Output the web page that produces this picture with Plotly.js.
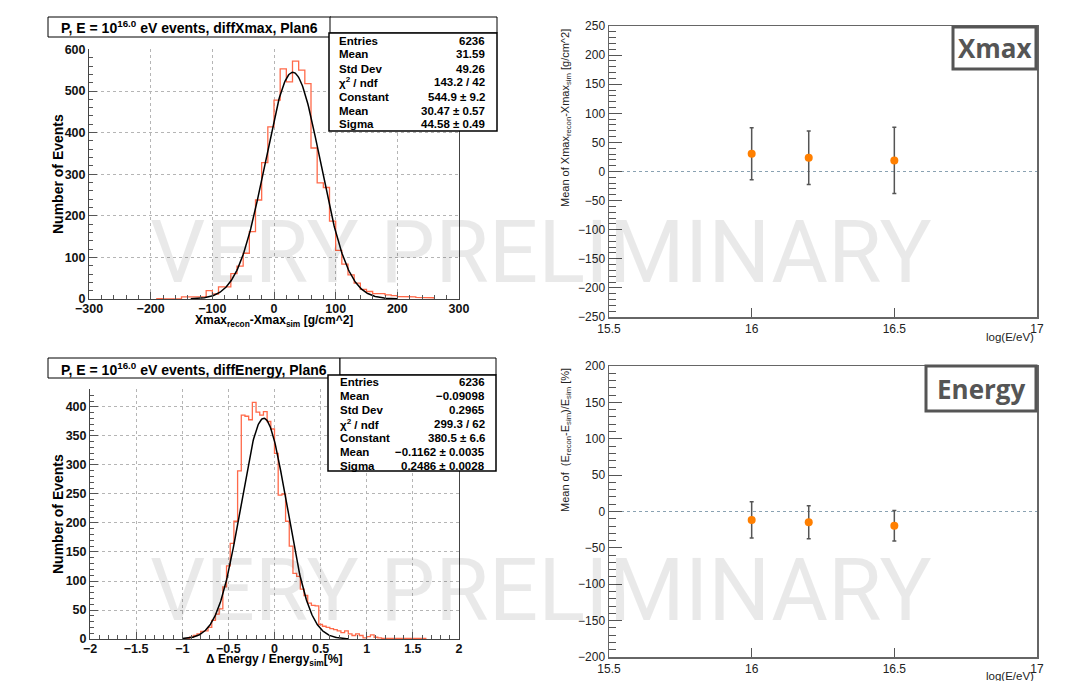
<!DOCTYPE html>
<html><head><meta charset="utf-8">
<script src="https://cdn.plot.ly/plotly-3.0.1.min.js"></script>
<style>html,body{margin:0;padding:0;background:#fff}#chart{width:1076px;height:681px}</style>
</head><body><div id="chart"></div><script>
// ---------- data ----------
const xmaxBinLow = [-190,-180,-170,-160,-150,-140,-130,-120,-110,-100,-90,-80,-70,-60,-50,-40,-30,-20,-10,0,10,20,30,40,50,60,70,80,90,100,110,120,130,140,150,160,170,180,190,200,210,220,230,240,250];
const xmaxBinWidth = 10;
const xmaxCounts = [1,0,0,0,5,5,5,5,20,12,29,29,61,79,110,162,238,328,414,478,553,522,572,550,518,363,279,268,187,117,84,58,38,23,18,13,13,10,8,6,5,5,4,4,3];
const xmaxFitConstant = 544.9, xmaxFitMean = 30.47, xmaxFitSigma = 44.58;
const xmaxFitRange = [-135, 200];

const energyBinLow = [-0.96,-0.92,-0.88,-0.84,-0.80,-0.76,-0.72,-0.68,-0.64,-0.60,-0.56,-0.52,-0.48,-0.44,-0.40,-0.36,-0.32,-0.28,-0.24,-0.20,-0.16,-0.12,-0.08,-0.04,0.00,0.04,0.08,0.12,0.16,0.20,0.24,0.28,0.32,0.36,0.40,0.44,0.48,0.52,0.56,0.60,0.64,0.68,0.72,0.76,0.80,0.84,0.88,0.92,0.96,1.00,1.04,1.08,1.12,1.16,1.20,1.24,1.28,1.32,1.36,1.40,1.44,1.48,1.52,1.56,1.60];
const energyBinWidth = 0.04;
const energyCounts = [1,3,6,9,13,14,20,32,43,52,90,126,165,203,290,386,384,378,408,391,386,392,375,362,320,248,250,203,160,113,108,86,75,62,58,57,25,22,20,18,16,14,11,14,9,6,9,6,2,4,7,3,2,1,1,1,1,0,1,1,1,1,1,1,1];
const energyFitConstant = 380.5, energyFitMean = -0.1162, energyFitSigma = 0.2486;
const energyFitRange = [-1.0, 0.8];

const statsLabels = ["Entries","Mean","Std Dev","χ<sup>2</sup> / ndf","Constant","Mean","Sigma"];
const statsXmax = ["6236","31.59","49.26","143.2 / 42","544.9 ± 9.2","30.47 ± 0.57","44.58 ± 0.49"];
const statsEnergy = ["6236","−0.09098","0.2965","299.3 / 62","380.5 ± 6.6","−0.1162 ± 0.0035","0.2486 ± 0.0028"];

const logE = [16, 16.2, 16.5];
const xmaxMean = [30.5, 23.5, 19];
const xmaxErr = [44.6, 46, 57];
const energyMean = [-11.6, -14.8, -19.6];
const energyErr = [24.9, 22.7, 21];

const xTicksRight = [15.5, 16, 16.5, 17];
const xTickTextRight = ["15.5", "16", "16.5", "17"];

// ---------- helpers ----------
const W = 1076, H = 681;
const px = x => x / W, py = y => 1 - y / H;
function steps(lows, w, counts) {
  const xs = [lows[0]], ys = [0];
  for (let i = 0; i < lows.length; i++) { xs.push(lows[i], lows[i] + w); ys.push(counts[i], counts[i]); }
  xs.push(lows[lows.length - 1] + w); ys.push(0);
  return {xs, ys};
}
function gauss(c, m, s, range, n) {
  const xs = [], ys = [];
  for (let i = 0; i <= n; i++) { const x = range[0] + (range[1] - range[0]) * i / n; xs.push(x); ys.push(c * Math.exp(-0.5 * ((x - m) / s) ** 2)); }
  return {xs, ys};
}
const hx = steps(xmaxBinLow, xmaxBinWidth, xmaxCounts);
const he = steps(energyBinLow, energyBinWidth, energyCounts);
const gx = gauss(xmaxFitConstant, xmaxFitMean, xmaxFitSigma, xmaxFitRange, 300);
const ge = gauss(energyFitConstant, energyFitMean, energyFitSigma, energyFitRange, 300);

const histColor = '#ff6a4a';
const traces = [
  {x: hx.xs, y: hx.ys, xaxis: 'x', yaxis: 'y', mode: 'lines', line: {color: histColor, width: 1.3}, hoverinfo: 'skip'},
  {x: gx.xs, y: gx.ys, xaxis: 'x', yaxis: 'y', mode: 'lines', line: {color: '#000', width: 1.5}, hoverinfo: 'skip'},
  {x: he.xs, y: he.ys, xaxis: 'x2', yaxis: 'y2', mode: 'lines', line: {color: histColor, width: 1.3}, hoverinfo: 'skip'},
  {x: ge.xs, y: ge.ys, xaxis: 'x2', yaxis: 'y2', mode: 'lines', line: {color: '#000', width: 1.5}, hoverinfo: 'skip'},
  {x: logE, y: xmaxMean, xaxis: 'x3', yaxis: 'y3', mode: 'markers', marker: {color: '#ff7f00', size: 8},
   error_y: {type: 'data', array: xmaxErr, color: '#555', thickness: 1.5, width: 2}},
  {x: logE, y: energyMean, xaxis: 'x4', yaxis: 'y4', mode: 'markers', marker: {color: '#ff7f00', size: 8},
   error_y: {type: 'data', array: energyErr, color: '#555', thickness: 1.5, width: 2}}
];

const boldTick = {family: 'Liberation Sans', size: 12.5, weight: 700, color: '#111'};
const normTick = {family: 'Liberation Sans', size: 12, color: '#222'};
function leftX(dom, anchor, range, dtick, minorD) {
  return {domain: dom, anchor: anchor, range: range, dtick: dtick, tick0: 0, ticks: 'inside', ticklen: 7, tickwidth: 1, tickcolor: '#555',
    showline: true, linecolor: '#444', linewidth: 1, mirror: false, showgrid: true, gridcolor: '#b5b5b5', griddash: 'dot', gridwidth: 1,
    zeroline: false, tickfont: boldTick, ticklabelstandoff: -2,
    minor: {ticks: 'inside', ticklen: 4, dtick: minorD, tick0: 0, tickcolor: '#555', showgrid: false}};
}
function leftY(dom, anchor, range, dtick, minorD) {
  return {domain: dom, anchor: anchor, range: range, dtick: dtick, tick0: 0, ticks: 'inside', ticklen: 8, tickwidth: 1, tickcolor: '#555',
    showline: true, linecolor: '#444', linewidth: 1, mirror: true, showgrid: true, gridcolor: '#b5b5b5', griddash: 'dot', gridwidth: 1,
    zeroline: false, tickfont: boldTick, minor: {ticks: 'inside', ticklen: 4, dtick: minorD, tick0: 0, tickcolor: '#555', showgrid: false}};
}
function rightX(dom, anchor) {
  return {domain: dom, anchor: anchor, range: [15.5, 17], tickvals: xTicksRight, ticktext: xTickTextRight, ticks: 'inside', ticklen: 9, tickwidth: 1.2,
    tickcolor: '#555', showline: true, linecolor: '#666', linewidth: 1.5, mirror: true, showgrid: false, zeroline: false, tickfont: normTick};
}
function rightY(dom, anchor, range) {
  return {domain: dom, anchor: anchor, range: range, dtick: 50, tick0: 0, ticks: 'inside', ticklen: 13, tickwidth: 1.2, tickcolor: '#555',
    showline: true, linecolor: '#666', linewidth: 1.5, mirror: true, showgrid: false, zeroline: false, tickfont: normTick,
    minor: {ticks: 'inside', ticklen: 7, dtick: 10, tick0: 0, tickcolor: '#555', tickwidth: 1, showgrid: false}};
}

const shapes = [];
const annotations = [];
function box(x0, y0, x1, y1, lw, col) {
  shapes.push({type: 'rect', xref: 'paper', yref: 'paper', x0: px(x0), x1: px(x1), y0: py(y1), y1: py(y0),
    line: {color: col || '#000', width: lw || 1}, fillcolor: '#fff', layer: 'above'});
}
function text(t, x, y, opts) {
  annotations.push(Object.assign({text: t, xref: 'paper', yref: 'paper', x: px(x), y: py(y), showarrow: false,
    xanchor: 'center', yanchor: 'middle', font: {family: 'Liberation Sans', size: 12, color: '#000'}}, opts || {}));
}
const bold = (s) => ({family: 'Liberation Sans', size: s, weight: 700, color: '#000'});

// watermarks (drawn first, lightest)
text('VERY PRELIMINARY', 541, 252, {font: {family: 'Roboto', size: 87, weight: 400, color: 'rgba(0,0,0,0.085)'}});
text('VERY PRELIMINARY', 541, 590, {font: {family: 'Roboto', size: 87, weight: 400, color: 'rgba(0,0,0,0.085)'}});

// title boxes & stats (left)
box(48, 17, 331, 37, 1);
text('P, E = 10<sup>16.0</sup> eV events, diffXmax, Plan6', 189.5, 27.5, {font: bold(14)});
box(330, 17, 497, 33, 1);
box(329, 33, 497, 131, 1.5);
box(48, 358, 340, 378, 1);
text('P, E = 10<sup>16.0</sup> eV events, diffEnergy, Plan6', 194, 368.5, {font: bold(14)});
box(340, 358, 496, 375, 1);
box(328, 375, 496, 471, 1.5);
const topRows = [40.7, 54.5, 68.5, 82.5, 96.8, 110.7, 124.5];
const botRows = [381.7, 395.5, 409.8, 423.6, 438.2, 452.2, 466];
statsLabels.forEach((l, i) => {
  text(l, 337, topRows[i], {xanchor: 'left', font: bold(11.5)});
  text(statsXmax[i], 487, topRows[i], {xanchor: 'right', font: bold(11.5)});
  text(l, 338, botRows[i], {xanchor: 'left', font: bold(11.5)});
  text(statsEnergy[i], 487, botRows[i], {xanchor: 'right', font: bold(11.5)});
});

// left axis titles
text('Number of Events', 58, 174, {textangle: -90, font: bold(14)});
text('Number of Events', 58, 514, {textangle: -90, font: bold(14)});
text('Xmax<sub>recon</sub>-Xmax<sub>sim</sub> [g/cm^2]', 274, 321, {font: bold(12)});
text('Δ Energy / Energy<sub>sim</sub>[%]', 274, 660, {font: bold(12)});

// right axis titles
text('Mean of Xmax<sub>recon</sub>-Xmax<sub>sim</sub> [g/cm^2]', 566, 27, {yanchor: 'top', textangle: -90, font: {family: 'Liberation Sans', size: 11, color: '#222'}});
text('Mean of \u00a0(E<sub>recon</sub>-E<sub>sim</sub>)/E<sub>sim</sub> [%]', 566, 366, {yanchor: 'top', textangle: -90, font: {family: 'Liberation Sans', size: 11, color: '#222'}});
text('log(E/eV)', 1036, 337, {xanchor: 'right', font: {family: 'Liberation Sans', size: 11.5, color: '#222'}});
text('log(E/eV)', 1036, 676, {xanchor: 'right', font: {family: 'Liberation Sans', size: 11.5, color: '#222'}});

// zero lines on right plots
shapes.push({type: 'line', xref: 'x3', yref: 'y3', x0: 15.5, x1: 17, y0: 0, y1: 0, line: {color: '#8aa2b2', width: 1, dash: 'dot'}, layer: 'below'});
shapes.push({type: 'line', xref: 'x4', yref: 'y4', x0: 15.5, x1: 17, y0: 0, y1: 0, line: {color: '#8aa2b2', width: 1, dash: 'dot'}, layer: 'below'});

// label boxes
box(953, 27, 1036, 69, 3, '#555');
text('Xmax', 995, 48, {font: {family: 'Open Sans', size: 26, weight: 700, color: '#555'}});
box(926, 366, 1036, 411, 3, '#555');
text('Energy', 981.5, 388.5, {font: {family: 'Open Sans', size: 26, weight: 700, color: '#555'}});

const layout = {
  width: W, height: H, margin: {l: 0, r: 0, t: 0, b: 0}, paper_bgcolor: '#fff', plot_bgcolor: 'rgba(0,0,0,0)', showlegend: false,
  xaxis: leftX([px(89), px(459)], 'y', [-300, 300], 100, 20),
  yaxis: leftY([py(299), py(49)], 'x', [0, 601], 100, 20),
  xaxis2: leftX([px(90), px(459)], 'y2', [-2, 2], 0.5, 0.1),
  yaxis2: leftY([py(639), py(389)], 'x2', [0, 431], 50, 10),
  xaxis3: rightX([px(609), px(1037)], 'y3'),
  yaxis3: rightY([py(317), py(26)], 'x3', [-250, 250]),
  xaxis4: rightX([px(609), px(1037)], 'y4'),
  yaxis4: rightY([py(657), py(366)], 'x4', [-200, 200]),
  shapes: shapes, annotations: annotations
};
Plotly.newPlot('chart', traces, layout, {displayModeBar: false, staticPlot: true});
</script></body></html>
